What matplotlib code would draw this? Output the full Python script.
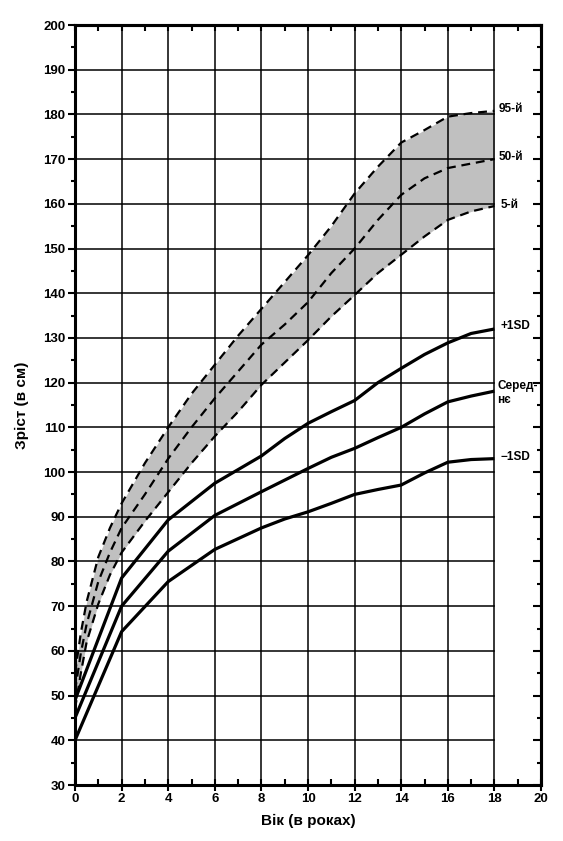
import matplotlib
matplotlib.use("Agg")
import matplotlib.pyplot as plt
import numpy as np

plt.rcParams['font.family'] = ['Liberation Sans', 'DejaVu Sans']

# Normal percentiles
pct_age = [0, 0.25, 0.5, 1, 1.5, 2, 3, 4, 5, 6, 7, 8, 9, 10, 11, 12, 13, 14, 15, 16, 17, 18]
p95 = [55, 64, 71, 81, 87.5, 93, 102, 110, 117.5, 124, 130.5, 136.5, 142.5, 148.5, 155, 162.3, 168.3, 173.7, 176.5, 179.5, 180.3, 180.8]
p50 = [51, 59.5, 66, 75.5, 82, 87.5, 95, 103, 110, 116.5, 122.5, 128.5, 133, 138, 144.5, 150, 156.4, 162, 165.7, 168, 169, 170]
p5 = [47, 55, 62, 70.5, 77, 82, 89, 95.5, 102, 108, 113.5, 119.5, 124.5, 129.5, 134.8, 139.6, 144.5, 148.6, 152.7, 156.4, 158.3, 159.5]

# Mean +/- SD curves
sd_age = [0, 2, 4, 6, 8, 9, 10, 11, 12, 13, 14, 15, 16, 17, 18]
plus1sd = [49, 76.3, 89.3, 97.5, 103.6, 107.5, 110.9, 113.5, 116, 120, 123.2, 126.3, 128.9, 131, 132]
mean_sd = [45, 70, 82.3, 90.3, 95.6, 98.2, 100.8, 103.3, 105.3, 107.7, 110, 113, 115.7, 117, 118.1]
minus1sd = [40, 64.3, 75.5, 82.7, 87.5, 89.5, 91.1, 93, 95, 96.1, 97.1, 99.8, 102.2, 102.8, 103]

pct_labels = ["95-й", "50-й", "5-й"]
sd_labels = ["+1SD", "Серед-\nнє", "\u22121SD"]

fig = plt.figure(figsize=(5.63, 8.41), dpi=100)
ax = fig.add_axes([75/563, 1-785/841, (541-75)/563, (785-25)/841])
ax.set_xlim(0, 20)
ax.set_ylim(30, 200)

# grid
for gx in range(2, 19, 2):
    ax.plot([gx, gx], [30, 200], color='black', lw=1.1, zorder=2)
for gy in range(40, 200, 10):
    ax.plot([0, 18], [gy, gy], color='black', lw=1.1, zorder=2)

ax.fill_between(pct_age, p5, p95, color='#c0c0c0', lw=0, zorder=1)
for arr in (p95, p50, p5):
    ax.plot(pct_age, arr, color='black', lw=1.6, ls=(0, (4, 2.6)), zorder=3)
for arr in (plus1sd, mean_sd, minus1sd):
    ax.plot(sd_age, arr, color='black', lw=2.3, zorder=4, solid_capstyle='butt')

# right labels
lab_kw = dict(fontsize=8.5, fontweight='bold', va='center', ha='left')
ax.text(18.2, p95[-1] + 0.3, pct_labels[0], **lab_kw)
ax.text(18.2, p50[-1] + 0.5, pct_labels[1], **lab_kw)
ax.text(18.25, p5[-1] + 0.3, pct_labels[2], **lab_kw)
ax.text(18.25, plus1sd[-1] + 0.6, sd_labels[0], **lab_kw)
ax.text(18.12, mean_sd[-1] - 0.5, sd_labels[1], fontsize=8.5, fontweight='bold', va='center', ha='left', linespacing=1.2)
ax.text(18.25, minus1sd[-1] + 0.3, sd_labels[2], **lab_kw)

# ticks
ax.set_xticks(range(0, 21, 2))
ax.set_xticks(range(1, 20, 2), minor=True)
ax.set_yticks(range(30, 201, 10))
ax.set_yticks(range(35, 200, 10), minor=True)
ax.tick_params(axis='x', which='major', direction='inout', length=8, width=1.5, top=False, labelsize=9.5, pad=2)
ax.tick_params(axis='x', which='minor', direction='in', length=4, width=1.5, top=False)
ax.tick_params(axis='y', which='major', direction='out', length=5, width=1.5, labelsize=9.5, pad=2)
ax.tick_params(axis='y', which='minor', direction='out', length=3, width=1.5)

# top and right ticks (inward)
sec_x = ax.secondary_xaxis('top')
sec_x.set_xticks(range(0, 21, 1))
sec_x.tick_params(direction='in', length=4, width=1.5, labelsize=0, labeltop=False)
sec_x.spines['top'].set_linewidth(2.2)
sec_y = ax.secondary_yaxis('right')
sec_y.set_yticks(range(30, 201, 10))
sec_y.set_yticks(range(35, 200, 10), minor=True)
sec_y.tick_params(which='major', direction='in', length=6, width=1.5, labelright=False)
sec_y.tick_params(which='minor', direction='in', length=3, width=1.5, labelright=False)
sec_y.spines['right'].set_linewidth(2.2)

for s in ax.spines.values():
    s.set_linewidth(2.2)

for lbl in ax.get_xticklabels() + ax.get_yticklabels():
    lbl.set_fontweight('bold')

ax.set_xlabel("Вік (в роках)", fontsize=11, fontweight='bold', labelpad=6)
ax.set_ylabel("Зріст (в см)", fontsize=11, fontweight='bold', labelpad=10)

fig.savefig("out.png", dpi=100)
